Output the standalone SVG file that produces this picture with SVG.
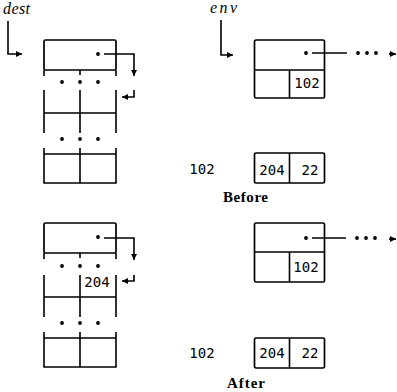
<svg xmlns="http://www.w3.org/2000/svg" width="397" height="392" viewBox="0 0 397 392">
<defs>
<marker id="ah" markerUnits="userSpaceOnUse" markerWidth="7" markerHeight="7" refX="6" refY="3.5" orient="auto">
<path d="M0,0.5 L6,3.5 L0,6.5 z" fill="#000"/>
</marker>
<style>
.ln{stroke:#000;stroke-width:1.6;fill:none}
.bx{stroke:#000;stroke-width:1.7;fill:#fff}
.ar{stroke:#000;stroke-width:1.6;fill:none;marker-end:url(#ah)}
.dt{fill:#000}
.mono{font-family:"DejaVu Sans Mono","Liberation Mono",monospace;font-size:14px;fill:#000}
.it{font-family:"Liberation Serif","DejaVu Serif",serif;font-style:italic;font-size:16px;fill:#000}
.bd{font-family:"Liberation Serif","DejaVu Serif",serif;font-weight:bold;font-size:15px;fill:#000}
</style>
</defs>
<rect width="397" height="392" fill="#fff"/>

<!-- labels -->
<g id="label-dest"><text class="it" x="3" y="14" textLength="27">dest</text></g>
<g id="label-env"><text class="it" x="210" y="13" textLength="27">env</text></g>

<!-- BEFORE: dest stack -->
<g id="dest-before">
<rect class="bx" x="44" y="40" width="72" height="30" rx="1.5"/>
<path class="ln" d="M44,70 V76 M80,70 V75 M116,70 V76"/>
<circle class="dt" cx="98" cy="54" r="1.9"/>
<circle class="dt" cx="62" cy="82" r="1.9"/><circle class="dt" cx="80" cy="82" r="1.9"/><circle class="dt" cx="98" cy="82" r="1.9"/>
<path class="ln" d="M44,90 V133 M80,90 V133 M116,90 V133 M44,113 H116"/>
<circle class="dt" cx="62" cy="139" r="1.9"/><circle class="dt" cx="80" cy="139" r="1.9"/><circle class="dt" cx="98" cy="139" r="1.9"/>
<path class="ln" d="M44,148 V183 H116 V148 M80,148 V183 M44,154 H116"/>
</g>

<!-- BEFORE: env frame -->
<g id="env-before">
<rect class="bx" x="254.5" y="40" width="70" height="58" rx="1.5"/>
<path class="ln" d="M254.5,70 H324.5 M289.5,70 V98"/>
<text class="mono" x="307" y="88" text-anchor="middle">102</text>
<circle class="dt" cx="306" cy="53" r="1.9"/>
<circle class="dt" cx="358" cy="53" r="1.9"/><circle class="dt" cx="367" cy="53" r="1.9"/><circle class="dt" cx="376" cy="53" r="1.9"/>
</g>

<g id="addr-before">
<text class="mono" x="202" y="174" text-anchor="middle">102</text>
</g>
<g id="pair-before">
<rect class="bx" x="254.5" y="153" width="70" height="30" rx="1.5"/>
<path class="ln" d="M289.5,153 V183"/>
<text class="mono" x="272" y="175" text-anchor="middle">204</text>
<text class="mono" x="310" y="175" text-anchor="middle">22</text>
</g>
<g id="caption-before"><text class="bd" x="223" y="202" textLength="45">Before</text></g>

<!-- AFTER: dest stack -->
<g id="dest-after">
<rect class="bx" x="44" y="223" width="72" height="30" rx="1.5"/>
<path class="ln" d="M44,253 V259 M80,253 V258 M116,253 V259"/>
<circle class="dt" cx="98" cy="237" r="1.9"/>
<circle class="dt" cx="62" cy="266" r="1.9"/><circle class="dt" cx="80" cy="266" r="1.9"/><circle class="dt" cx="98" cy="266" r="1.9"/>
<path class="ln" d="M44,275 V317 M80,275 V317 M116,275 V317 M44,297 H116"/>
<text class="mono" x="97" y="287" text-anchor="middle">204</text>
<circle class="dt" cx="62" cy="323" r="1.9"/><circle class="dt" cx="80" cy="323" r="1.9"/><circle class="dt" cx="98" cy="323" r="1.9"/>
<path class="ln" d="M44,332 V367 H116 V332 M80,332 V367 M44,338 H116"/>
</g>

<!-- AFTER: env frame -->
<g id="env-after">
<rect class="bx" x="254.5" y="223" width="70" height="59" rx="1.5"/>
<path class="ln" d="M254.5,252 H324.5 M289.5,252 V282"/>
<text class="mono" x="306" y="272" text-anchor="middle">102</text>
<circle class="dt" cx="306" cy="238" r="1.9"/>
<circle class="dt" cx="357" cy="238" r="1.9"/><circle class="dt" cx="366" cy="238" r="1.9"/><circle class="dt" cx="375" cy="238" r="1.9"/>
</g>

<g id="addr-after">
<text class="mono" x="202" y="358" text-anchor="middle">102</text>
</g>
<g id="pair-after">
<rect class="bx" x="254.5" y="338" width="70" height="30" rx="1.5"/>
<path class="ln" d="M289.5,338 V368"/>
<text class="mono" x="272" y="358" text-anchor="middle">204</text>
<text class="mono" x="310" y="358" text-anchor="middle">22</text>
</g>
<g id="caption-after"><text class="bd" x="227" y="388" textLength="38">After</text></g>

<!-- connectors -->
<g id="connectors">
<path class="ar" d="M8,21 V54 H22"/>
<path class="ar" d="M221,20 V55 H233"/>
<path class="ar" d="M104,54 H134 V76"/>
<path class="ar" d="M134,90 V97 H122"/>
<path class="ln" d="M312,53 H347"/>
<path class="ar" d="M389,54 H396"/>
<path class="ar" d="M104,238 H134 V260"/>
<path class="ar" d="M134,275 V281 H122"/>
<path class="ln" d="M312,238 H346"/>
<path class="ar" d="M389,239 H396"/>
</g>
</svg>
